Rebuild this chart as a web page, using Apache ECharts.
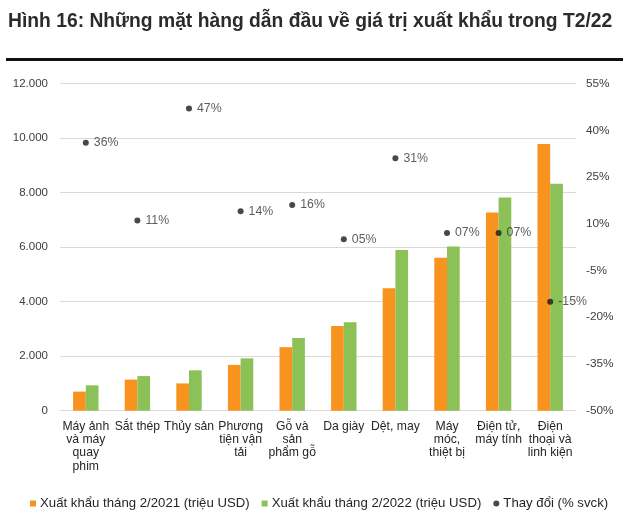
<!DOCTYPE html>
<html>
<head>
<meta charset="utf-8">
<script src="https://cdn.jsdelivr.net/npm/echarts@6/dist/echarts.min.js"></script>
<style>
html,body{margin:0;padding:0;background:#fff;}
#c{width:630px;height:517px;}
</style>
</head>
<body>
<div id="c"></div>
<script>
var titleText = 'Hình 16: Những mặt hàng dẫn đầu về giá trị xuất khẩu trong T2/22';
var categories = ['Máy ảnh\nvà máy\nquay\nphim', 'Sắt thép', 'Thủy sản', 'Phương\ntiện vận\ntải', 'Gỗ và\nsản\nphẩm gỗ', 'Da giày', 'Dệt, may', 'Máy\nmóc,\nthiệt bị', 'Điện tử,\nmáy tính', 'Điện\nthoại và\nlinh kiện'];
var seriesNames = ['Xuất khẩu tháng 2/2021 (triệu USD)', 'Xuất khẩu tháng 2/2022 (triệu USD)', 'Thay đổi (% svck)'];
var export2021 = [700, 1140, 1000, 1680, 2330, 3110, 4490, 5610, 7270, 9780];
var export2022 = [930, 1270, 1480, 1920, 2670, 3240, 5890, 6020, 7820, 8320];
var changePct = [36, 11, 47, 14, 16, 5, 31, 7, 7, -15];
var changeLabels = ['36%', '11%', '47%', '14%', '16%', '05%', '31%', '07%', '07%', '-15%'];
var leftTicks = {min: 0, max: 12000, interval: 2000};
var rightTicks = {min: -50, max: 55, interval: 15};

var chart = echarts.init(document.getElementById('c'), null, {renderer: 'canvas'});
var font = 'Liberation Sans, Arial, sans-serif';
chart.setOption({
  animation: false,
  textStyle: {fontFamily: font},
  title: {
    text: titleText, left: 3, top: 7,
    textStyle: {fontSize: 19.3, fontWeight: 'bold', color: '#2b2b2b', fontFamily: font}
  },
  graphic: [{
    type: 'rect', left: 6, top: 58, shape: {width: 617, height: 3},
    style: {fill: '#111111'}
  }],
  legend: {
    top: 492, left: 25,
    itemWidth: 6, itemHeight: 6, itemGap: 12,
    textStyle: {fontSize: 13.2, color: '#262626', fontFamily: font, padding: [0, 0, 0, -1]},
    data: [
      {name: seriesNames[0], icon: 'rect'},
      {name: seriesNames[1], icon: 'rect'},
      {name: seriesNames[2], icon: 'circle'}
    ]
  },
  grid: {left: 60, right: 54, top: 83.5, bottom: 106.3, containLabel: false},
  xAxis: {
    type: 'category', data: categories,
    axisLine: {show: true, lineStyle: {color: '#d9d9d9'}},
    axisTick: {show: false},
    axisLabel: {interval: 0, fontSize: 12.2, lineHeight: 13.3, color: '#262626', margin: 9, fontFamily: font}
  },
  yAxis: [{
    type: 'value', min: leftTicks.min, max: leftTicks.max, interval: leftTicks.interval,
    axisLabel: {
      fontSize: 11.5, color: '#404040', margin: 12, fontFamily: font,
      formatter: function (v) { return v === 0 ? '0' : (v / 1000).toFixed(3); }
    },
    splitLine: {lineStyle: {color: '#d9d9d9'}},
    axisLine: {show: false}, axisTick: {show: false}
  }, {
    type: 'value', min: rightTicks.min, max: rightTicks.max, interval: rightTicks.interval,
    position: 'right',
    axisLabel: {fontSize: 11.8, color: '#404040', margin: 10, formatter: '{value}%', fontFamily: font},
    splitLine: {show: false}, axisLine: {show: false}, axisTick: {show: false}
  }],
  series: [{
    name: seriesNames[0], type: 'bar', data: export2021, yAxisIndex: 0,
    barWidth: '24.6%', barGap: '0%',
    itemStyle: {color: '#f7931e'}
  }, {
    name: seriesNames[1], type: 'bar', data: export2022, yAxisIndex: 0,
    barWidth: '24.6%', barGap: '0%',
    itemStyle: {color: '#8bc157'}
  }, {
    name: seriesNames[2], type: 'scatter', yAxisIndex: 1,
    data: changePct, symbol: 'circle', symbolSize: 6,
    itemStyle: {color: '#1a1a1a'},
    label: {
      show: true, position: 'right', distance: 5, fontSize: 12.3, color: '#333333', fontFamily: font,
      formatter: function (p) { return changeLabels[p.dataIndex]; }
    }
  }]
});
</script>
</body>
</html>
